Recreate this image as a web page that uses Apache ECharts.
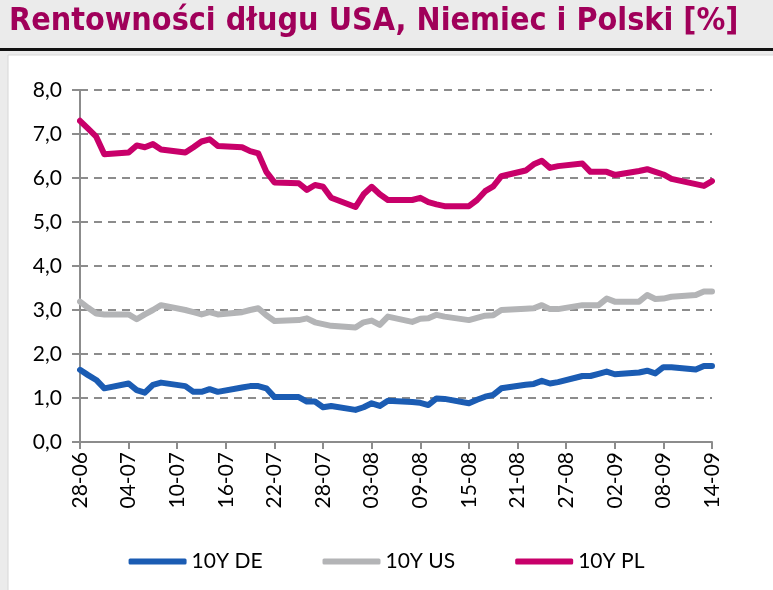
<!DOCTYPE html>
<html>
<head>
<meta charset="utf-8">
<script src="https://cdn.jsdelivr.net/npm/echarts@6/dist/echarts.min.js"></script>
<style>
html,body{margin:0;padding:0;background:#ebebeb;}
#c{width:773px;height:590px;}
</style>
</head>
<body>
<div id="c"></div>
<script>
var categories = [
  '28-06','29-06','30-06',
  '01-07','02-07','03-07','04-07','05-07','06-07','07-07','08-07','09-07','10-07',
  '11-07','12-07','13-07','14-07','15-07','16-07','17-07','18-07','19-07','20-07',
  '21-07','22-07','23-07','24-07','25-07','26-07','27-07','28-07','29-07','30-07','31-07',
  '01-08','02-08','03-08','04-08','05-08','06-08','07-08','08-08','09-08','10-08',
  '11-08','12-08','13-08','14-08','15-08','16-08','17-08','18-08','19-08','20-08',
  '21-08','22-08','23-08','24-08','25-08','26-08','27-08','28-08','29-08','30-08','31-08',
  '01-09','02-09','03-09','04-09','05-09','06-09','07-09','08-09','09-09','10-09',
  '11-09','12-09','13-09','14-09'
];

var de10y = [
  1.64,1.52,1.41,1.22,null,null,
  1.33,1.18,1.12,1.30,1.35,null,null,
  1.27,1.14,1.14,1.20,1.14,null,null,
  1.24,1.27,1.27,1.22,1.02,null,null,
  1.02,0.92,0.92,0.79,0.82,null,null,
  0.73,0.79,0.88,0.82,0.94,null,null,
  0.91,0.89,0.84,0.99,0.98,null,null,
  0.88,0.96,1.03,1.07,1.22,null,null,
  1.30,1.32,1.39,1.33,1.36,null,null,
  1.50,1.50,1.55,1.60,1.54,null,null,
  1.58,1.62,1.56,1.70,1.70,null,null,
  1.65,1.73,1.73
];

var us10y = [
  3.19,3.05,2.92,2.90,null,null,
  2.90,2.79,2.90,3.00,3.11,null,null,
  3.00,2.95,2.90,2.95,2.90,null,null,
  2.95,3.00,3.04,2.88,2.75,null,null,
  2.77,2.81,2.72,2.68,2.64,null,null,
  2.60,2.72,2.76,2.66,2.85,null,null,
  2.73,2.80,2.81,2.89,2.85,null,null,
  2.77,2.82,2.87,2.88,3.00,null,null,
  3.03,3.04,3.11,3.02,3.02,null,null,
  3.11,3.11,3.11,3.26,3.19,null,null,
  3.19,3.34,3.25,3.26,3.30,null,null,
  3.34,3.42,3.42
];

var pl10y = [
  7.30,7.12,6.94,6.54,null,null,
  6.58,6.74,6.70,6.77,6.65,null,null,
  6.58,6.70,6.83,6.88,6.73,null,null,
  6.70,6.61,6.56,6.14,5.90,null,null,
  5.88,5.73,5.84,5.80,5.55,null,null,
  5.34,5.63,5.80,5.63,5.50,null,null,
  5.50,5.55,5.45,5.40,5.36,null,null,
  5.36,5.50,5.70,5.81,6.04,null,null,
  6.17,6.31,6.39,6.23,6.27,null,null,
  6.33,6.14,6.14,6.14,6.07,null,null,
  6.16,6.20,6.14,6.08,5.98,null,null,
  5.86,5.82,5.93
];

var seriesNames = ['10Y DE','10Y US','10Y PL'];
var seriesColors = ['#1b5cb3','#b3b4b6','#c8006a'];
var titleText = 'Rentowności długu USA, Niemiec i Polski [%]';

var chart = echarts.init(document.getElementById('c'), null, {renderer:'canvas'});
var font = 'Lato';
function mk(name, data, color){
  return {
    name: name, type: 'line', data: data, connectNulls: true,
    showSymbol: false, symbol: 'none', color: color,
    lineStyle: {width: 6, color: color, cap: 'round', join: 'round'},
    emphasis: {disabled: true}, animation: false
  };
}
chart.setOption({
  backgroundColor: '#ebebeb',
  animation: false,
  title: {
    text: titleText, left: 4, top: 1,
    textStyle: {color: '#a0005a', fontSize: 32, fontWeight: 'bold', fontFamily: 'DejaVu Sans Condensed'}
  },
  graphic: [
    {type: 'rect', z: -100, shape: {x: 8, y: 55, width: 770, height: 540}, style: {fill: '#ffffff', stroke: '#d6d6d6', lineWidth: 1}},
    {type: 'rect', z: -100, shape: {x: 0, y: 48, width: 773, height: 3}, style: {fill: '#111111'}}
  ],
  grid: {left: 80, right: 61, top: 90, bottom: 148, containLabel: false},
  legend: {
    data: seriesNames, top: 546, left: 'center', itemGap: 60,
    itemWidth: 58, itemHeight: 6, icon: 'roundRect',
    textStyle: {fontFamily: font, fontSize: 21, color: '#000'}
  },
  xAxis: {
    type: 'category', data: categories, boundaryGap: false,
    axisLine: {lineStyle: {color: '#8c8c8c', width: 2}},
    axisTick: {show: true, interval: 5, length: 7, lineStyle: {color: '#8c8c8c', width: 2}},
    axisLabel: {interval: 5, rotate: 90, margin: 10, fontFamily: font, fontSize: 21, color: '#000'},
    splitLine: {show: false}
  },
  yAxis: {
    type: 'value', min: 0, max: 8, interval: 1,
    axisLine: {show: true, lineStyle: {color: '#8c8c8c', width: 2}},
    axisTick: {show: true, length: 8, lineStyle: {color: '#8c8c8c', width: 2}},
    axisLabel: {margin: 18, fontFamily: font, fontSize: 21, color: '#000',
      formatter: function(v){ return v.toFixed(1).replace('.', ','); }},
    splitLine: {show: true, lineStyle: {color: '#8c8c8c', width: 2, type: [8, 6]}}
  },
  series: [
    mk(seriesNames[0], de10y, seriesColors[0]),
    mk(seriesNames[1], us10y, seriesColors[1]),
    mk(seriesNames[2], pl10y, seriesColors[2])
  ]
});
</script>
</body>
</html>
